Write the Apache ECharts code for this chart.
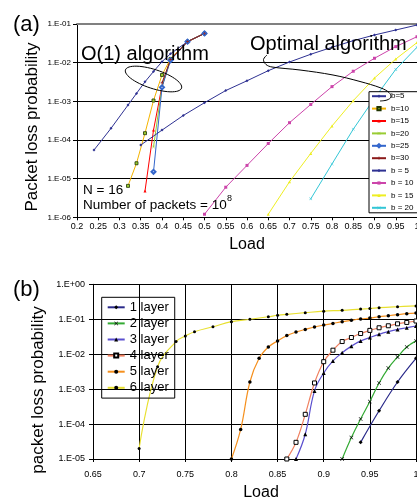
<!DOCTYPE html>
<html><head><meta charset="utf-8">
<script src="https://cdn.jsdelivr.net/npm/echarts@6/dist/echarts.min.js"></script>
<style>html,body{margin:0;padding:0;background:#fff}#c{width:417px;height:501px}</style>
</head><body><div id="c"></div>
<script>
// ===== Chart (a): Packet loss probability vs Load =====
// O(1) algorithm
const a_o1_b5_load  = [0.24, 0.28, 0.32, 0.34, 0.36, 0.38, 0.40, 0.42, 0.46, 0.50];
const a_o1_b5_val   = [5.5e-5, 2.0e-4, 8.0e-4, 1.6e-3, 3.2e-3, 5.9e-3, 1.06e-2, 1.7e-2, 3.5e-2, 5.7e-2];
const a_o1_b10_load = [0.32, 0.34, 0.36, 0.38, 0.40, 0.42, 0.46, 0.50];
const a_o1_b10_val  = [6.5e-6, 2.5e-5, 1.5e-4, 1.05e-3, 4.8e-3, 1.25e-2, 3.5e-2, 5.7e-2];
const a_o1_b15_load = [0.36, 0.38, 0.40, 0.42, 0.46, 0.50];
const a_o1_b15_val  = [4.8e-6, 1.8e-4, 2.5e-3, 1.2e-2, 3.5e-2, 5.7e-2];
const a_o1_b20_load = [0.38, 0.40, 0.42, 0.46, 0.50];
const a_o1_b20_val  = [6.6e-5, 2.4e-3, 1.2e-2, 3.5e-2, 5.7e-2];
const a_o1_b25_load = [0.38, 0.40, 0.42, 0.46, 0.50];
const a_o1_b25_val  = [1.5e-5, 2.3e-3, 1.15e-2, 3.5e-2, 5.7e-2];
const a_o1_b30_load = [0.40, 0.42, 0.46, 0.50];
const a_o1_b30_val  = [3.0e-3, 1.2e-2, 3.5e-2, 5.7e-2];
// Optimal algorithm
const a_op_b5_load  = [0.35, 0.40, 0.45, 0.50, 0.55, 0.60, 0.65, 0.70, 0.75, 0.80, 0.85, 0.90, 0.95, 1.00];
const a_op_b5_val   = [7.4e-5, 1.8e-4, 4.3e-4, 9.2e-4, 1.9e-3, 3.4e-3, 6.2e-3, 1.04e-2, 1.65e-2, 2.5e-2, 3.7e-2, 5.2e-2, 7.0e-2, 9.4e-2];
const a_op_b10_load = [0.50, 0.55, 0.60, 0.65, 0.70, 0.75, 0.80, 0.85, 0.90, 0.95, 1.00];
const a_op_b10_val  = [1.2e-6, 6.0e-6, 2.2e-5, 8.1e-5, 2.8e-4, 8.3e-4, 2.4e-3, 6.0e-3, 1.3e-2, 2.6e-2, 4.7e-2];
const a_op_b15_load = [0.65, 0.70, 0.75, 0.80, 0.85, 0.90, 0.95, 1.00];
const a_op_b15_val  = [1.2e-6, 8.3e-6, 4.5e-5, 2.3e-4, 1.04e-3, 4.0e-3, 1.24e-2, 3.3e-2];
const a_op_b20_load = [0.75, 0.80, 0.85, 0.90, 0.95, 1.00];
const a_op_b20_val  = [3.0e-6, 2.4e-5, 1.9e-4, 1.2e-3, 6.7e-3, 2.5e-2];
const a_names = ['b=5', 'b=10', 'b=15', 'b=20', 'b=25', 'b=30', 'b = 5', 'b = 10', 'b = 15', 'b = 20'];

// ===== Chart (b): packet loss probability vs Load, per layer =====
const b_l1_load = [0.94, 0.96, 0.98, 1.00];
const b_l1_val  = [3.0e-5, 2.4e-4, 1.6e-3, 7.6e-3];
const b_l2_load = [0.92, 0.93, 0.94, 0.95, 0.96, 0.97, 0.98, 0.99, 1.00];
const b_l2_val  = [1.0e-5, 4.1e-5, 1.4e-4, 4.4e-4, 1.5e-3, 4.0e-3, 8.3e-3, 1.6e-2, 2.4e-2];
const b_l3_load = [0.87, 0.88, 0.89, 0.90, 0.91, 0.92, 0.93, 0.94, 0.95, 0.96, 0.97, 0.98, 0.99, 1.00];
const b_l3_val  = [1.0e-5, 5.1e-5, 8.9e-4, 2.9e-3, 6.4e-3, 1.1e-2, 1.7e-2, 2.4e-2, 3.0e-2, 3.7e-2, 4.4e-2, 5.1e-2, 5.7e-2, 6.4e-2];
const b_l4_load = [0.86, 0.87, 0.88, 0.89, 0.90, 0.91, 0.92, 0.93, 0.94, 0.95, 0.96, 0.97, 0.98, 0.99, 1.00];
const b_l4_val  = [1.0e-5, 3.0e-5, 1.9e-4, 1.5e-3, 6.1e-3, 1.3e-2, 2.3e-2, 3.0e-2, 3.9e-2, 4.8e-2, 5.7e-2, 6.5e-2, 7.4e-2, 8.1e-2, 8.9e-2];
const b_l5_load = [0.80, 0.81, 0.82, 0.83, 0.84, 0.85, 0.86, 0.87, 0.88, 0.89, 0.90, 0.91, 0.92, 0.93, 0.94, 0.95, 0.96, 0.97, 0.98, 0.99, 1.00];
const b_l5_val  = [1.0e-5, 7.0e-5, 1.6e-3, 7.6e-3, 1.6e-2, 2.4e-2, 3.4e-2, 4.3e-2, 5.1e-2, 6.0e-2, 6.8e-2, 7.6e-2, 8.5e-2, 9.3e-2, 0.102, 0.108, 0.118, 0.126, 0.135, 0.144, 0.150];
const b_l6_load = [0.70, 0.72, 0.74, 0.75, 0.76, 0.78, 0.80, 0.82, 0.84, 0.85, 0.86, 0.88, 0.90, 0.92, 0.94, 0.95, 0.96, 0.98, 1.00];
const b_l6_val  = [2.0e-5, 4.4e-3, 2.3e-2, 3.3e-2, 4.4e-2, 6.1e-2, 8.5e-2, 0.100, 0.118, 0.130, 0.138, 0.154, 0.170, 0.180, 0.196, 0.203, 0.214, 0.228, 0.240];
const b_names = ['1 layer', '2 layer', '3 layer', '4 layer', '5 layer', '6 layer'];

const FONT = 'Liberation Sans, Arial, sans-serif';
const zip = (xs, ys) => xs.map((x, i) => [x, ys[i]]);
const SYM_X = 'path://M1,0L5,4L9,0L10,1L6,5L10,9L9,10L5,6L1,10L0,9L4,5L0,1Z';
const SYM_PLUS = 'path://M4,0H6V4H10V6H6V10H4V6H0V4H4Z';

function lineA(name, xs, ys, color, symbol, size, item) {
  return {
    name, type: 'line', xAxisIndex: 0, yAxisIndex: 0, data: zip(xs, ys),
    symbol, symbolSize: size, showSymbol: true, animation: false,
    lineStyle: { color, width: 1 },
    itemStyle: Object.assign({ color }, item || {}),
    emphasis: { disabled: true }
  };
}
function lineB(name, xs, ys, color, symbol, size, item) {
  return {
    name, type: 'line', xAxisIndex: 2, yAxisIndex: 1, data: zip(xs, ys),
    symbol, symbolSize: size, showSymbol: true, animation: false, smooth: 0.4,
    lineStyle: { color, width: 1.2 },
    itemStyle: Object.assign({ color: '#000' }, item || {}),
    emphasis: { disabled: true }
  };
}
function expLabel(v) {
  const e = Math.round(Math.log10(v));
  const s = String(Math.abs(e)).padStart(2, '0');
  return '1.E' + (e < 0 ? '-' : '+') + s;
}
function ell(cx, cy, a, b, deg) {
  const r = deg * Math.PI / 180, p = [];
  for (let i = 0; i <= 60; i++) {
    const t = i / 60 * 2 * Math.PI, x = a * Math.cos(t), y = b * Math.sin(t);
    p.push([cx + x * Math.cos(r) - y * Math.sin(r), cy + x * Math.sin(r) + y * Math.cos(r)]);
  }
  return p;
}
function txt(x, y, text, size, extra) {
  return Object.assign({
    type: 'text', x, y, z: 50,
    style: { text, fill: '#000', fontSize: size, fontFamily: FONT,
      align: 'left', verticalAlign: 'middle', textAlign: 'left', textVerticalAlign: 'middle' }
  }, extra || {});
}
function ctxt(x, y, text, size, rot) {
  return {
    type: 'text', x, y, z: 50, rotation: rot || 0,
    style: { text, fill: '#000', fontSize: size, fontFamily: FONT,
      align: 'center', verticalAlign: 'middle', textAlign: 'center', textVerticalAlign: 'middle' }
  };
}

const chart = echarts.init(document.getElementById('c'), null, { renderer: 'canvas' });
const option = {
  animation: false,
  backgroundColor: '#fff',
  textStyle: { fontFamily: FONT },
  grid: [
    { left: 77, top: 24, width: 340, height: 193.3, containLabel: false, outerBoundsMode: 'none' },
    { left: 93, top: 284.3, width: 323, height: 174.7, containLabel: false, outerBoundsMode: 'none' }
  ],
  xAxis: [
    { gridIndex: 0, type: 'value', min: 0.2, max: 1, interval: 0.05,
      axisLine: { show: true, lineStyle: { color: '#000', width: 1 } },
      axisTick: { show: true, length: 3, lineStyle: { color: '#000' } },
      axisLabel: { fontSize: 9, color: '#000', margin: 5, fontFamily: FONT, showMinLabel: true, showMaxLabel: true, hideOverlap: false },
      splitLine: { show: false } },
    { gridIndex: 0, type: 'value', min: 0.2, max: 1, position: 'top',
      axisLine: { show: true, lineStyle: { color: '#808080', width: 2 } },
      axisTick: { show: false }, axisLabel: { show: false }, splitLine: { show: false } },
    { gridIndex: 1, type: 'value', min: 0.65, max: 1, interval: 0.05,
      axisLine: { show: true, lineStyle: { color: '#000', width: 1 } },
      axisTick: { show: true, length: 3, lineStyle: { color: '#000' } },
      axisLabel: { fontSize: 9, color: '#000', margin: 11, fontFamily: FONT, showMinLabel: true, showMaxLabel: true, hideOverlap: false },
      splitLine: { show: true, lineStyle: { color: '#000', width: 1 } } }
  ],
  yAxis: [
    { gridIndex: 0, type: 'log', logBase: 10, min: 1e-6, max: 1e-1, splitNumber: 5,
      axisLine: { show: true, lineStyle: { color: '#000', width: 1 } },
      axisTick: { show: true, length: 4, lineStyle: { color: '#000' } },
      axisLabel: { fontSize: 8, color: '#000', margin: 6, fontFamily: FONT, formatter: expLabel, showMinLabel: true, showMaxLabel: true },
      splitLine: { show: true, lineStyle: { color: '#000', width: 1 } } },
    { gridIndex: 1, type: 'log', logBase: 10, min: 1e-5, max: 1, splitNumber: 5,
      axisLine: { show: true, lineStyle: { color: '#000', width: 1 } },
      axisTick: { show: true, length: 4, lineStyle: { color: '#000' } },
      axisLabel: { fontSize: 9, color: '#000', margin: 8, fontFamily: FONT, formatter: expLabel, showMinLabel: true, showMaxLabel: true },
      splitLine: { show: true, lineStyle: { color: '#000', width: 1 } } }
  ],
  legend: [
    { data: a_names, orient: 'vertical', left: 369, top: 91.7,
      itemWidth: 14, itemHeight: 4, itemGap: 4.4,
      padding: [0.5, 40, 1, 2], borderColor: '#000', borderWidth: 1, borderRadius: 0,
      backgroundColor: '#fff', selectedMode: false,
      textStyle: { fontSize: 8, color: '#000', fontFamily: FONT } },
    { data: b_names, orient: 'vertical', left: 101.7, top: 297.3,
      itemWidth: 17, itemHeight: 5, itemGap: 3.1,
      padding: [3.5, 6, 3.8, 5], borderColor: '#000', borderWidth: 1, borderRadius: 0,
      backgroundColor: 'transparent', selectedMode: false,
      textStyle: { fontSize: 13, color: '#000', fontFamily: FONT } }
  ],
  series: [
    lineA('b=5', a_o1_b5_load, a_o1_b5_val, '#2e3192', 'diamond', 3),
    lineA('b=10', a_o1_b10_load, a_o1_b10_val, '#f5b400', 'rect', 3, { color: '#9acd32', borderColor: '#1f3300', borderWidth: 0.8 }),
    lineA('b=15', a_o1_b15_load, a_o1_b15_val, '#ff0000', 'triangle', 3),
    lineA('b=20', a_o1_b20_load, a_o1_b20_val, '#99cc33', SYM_X, 3),
    lineA('b=25', a_o1_b25_load, a_o1_b25_val, '#3366cc', 'emptyDiamond', 4, { borderWidth: 1 }),
    lineA('b=30', a_o1_b30_load, a_o1_b30_val, '#8b1a1a', SYM_PLUS, 3),
    lineA('b = 5', a_op_b5_load, a_op_b5_val, '#2e3192', 'diamond', 3),
    lineA('b = 10', a_op_b10_load, a_op_b10_val, '#cc44aa', 'rect', 3),
    lineA('b = 15', a_op_b15_load, a_op_b15_val, '#eeee22', 'triangle', 3),
    lineA('b = 20', a_op_b20_load, a_op_b20_val, '#33c6d6', SYM_X, 3),
    lineB('1 layer', b_l1_load, b_l1_val, '#2a2a8a', 'diamond', 4),
    lineB('2 layer', b_l2_load, b_l2_val, '#33aa33', SYM_X, 4),
    lineB('3 layer', b_l3_load, b_l3_val, '#5a4fcf', 'triangle', 4),
    lineB('4 layer', b_l4_load, b_l4_val, '#f08060', 'rect', 4, { color: '#fff', borderColor: '#000', borderWidth: 1 }),
    lineB('5 layer', b_l5_load, b_l5_val, '#f5901e', 'circle', 3.5),
    lineB('6 layer', b_l6_load, b_l6_val, '#e8e030', 'circle', 3)
  ],
  graphic: { elements: [
    txt(13, 25, '(a)', 22),
    txt(13, 290, '(b)', 22),
    txt(81, 54, 'O(1) algorithm', 20),
    txt(250, 44, 'Optimal algorithm', 20),
    txt(83, 190, 'N = 16', 13.5),
    txt(83, 205, 'Number of packets = 10', 13.5),
    txt(227, 199, '8', 9),
    ctxt(32, 127, 'Packet loss probability', 17, Math.PI / 2),
    ctxt(38, 390, 'packet loss probability', 17, Math.PI / 2),
    ctxt(247, 245, 'Load', 16),
    ctxt(261, 493, 'Load', 16),
    { type: 'polyline', z: 50, shape: { points: ell(153.5, 79, 29.5, 9.5, 18) },
      style: { stroke: '#000', fill: null, lineWidth: 1 } },
    { type: 'polyline', z: 50, shape: { smooth: 0.35, points: [[267, 55], [263.5, 59.5], [266, 64.5], [272, 67], [300, 70], [333, 75], [360, 81.5], [381, 88], [389, 92.5], [391, 97], [387, 100], [380, 101]] },
      style: { stroke: '#000', fill: null, lineWidth: 1 } }
  ] }
};
chart.setOption(option);
</script>
</body></html>
